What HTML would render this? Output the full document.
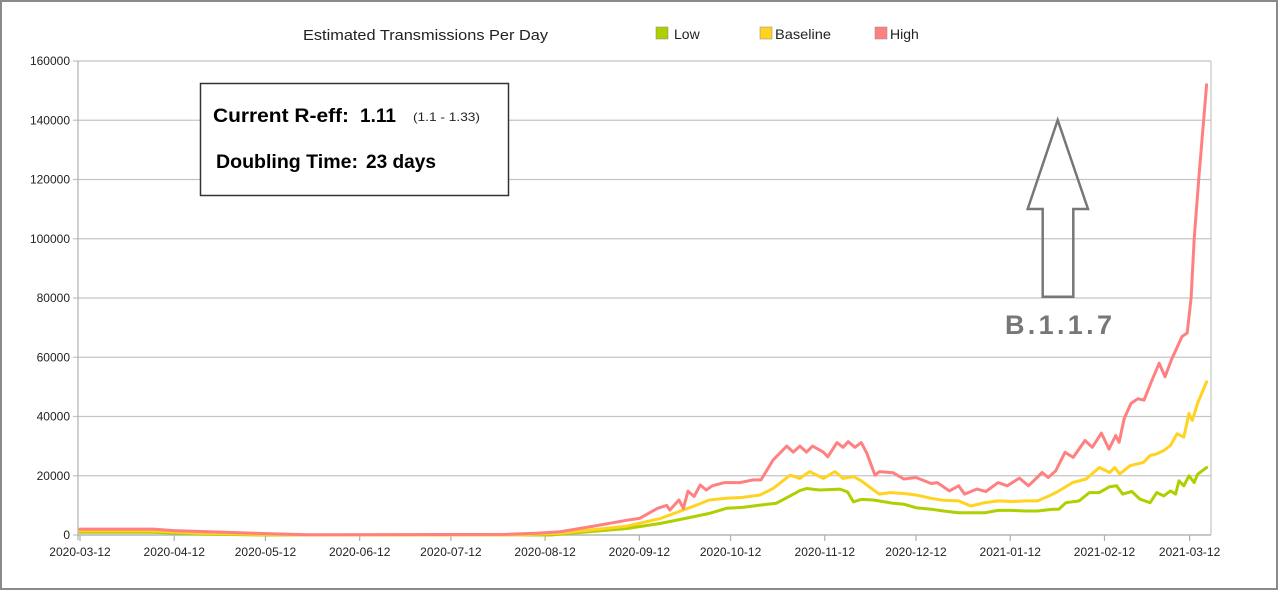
<!DOCTYPE html>
<html><head><meta charset="utf-8"><style>
html,body{margin:0;padding:0;background:#fff}
svg{display:block;font-family:"Liberation Sans",Arial,sans-serif}
</style></head><body>
<svg id="chart" width="1280" height="591" viewBox="0 0 1280 591">
<rect x="1" y="1" width="1276" height="588" fill="#fff" stroke="#8a8a8a" stroke-width="2"/>
<g id="grid"></g>
<g id="axes"></g>
<g id="series"></g>
<text x="303" y="40" font-size="15" textLength="245" lengthAdjust="spacingAndGlyphs" fill="#222">Estimated Transmissions Per Day</text>
<g>
<g><rect x="656" y="27" width="12" height="12" fill="#aecf00" stroke="#888" stroke-width="0.5"/><text x="674" y="39" font-size="14" fill="#222">Low</text></g>
<g><rect x="760" y="27" width="12" height="12" fill="#ffd320" stroke="#888" stroke-width="0.5"/><text x="775" y="39" font-size="14" textLength="56" lengthAdjust="spacingAndGlyphs" fill="#222">Baseline</text></g>
<g><rect x="875" y="27" width="12" height="12" fill="#ff8080" stroke="#888" stroke-width="0.5"/><text x="890" y="39" font-size="14" fill="#222">High</text></g>
</g>
<g>
<rect x="200.5" y="83.5" width="308" height="112" fill="#fff" stroke="#333" stroke-width="1.5"/>
<text x="213" y="122" font-size="19" font-weight="bold" textLength="136" lengthAdjust="spacingAndGlyphs" fill="#000">Current R-eff:</text>
<text x="360" y="122" font-size="19" font-weight="bold" fill="#000">1.11</text>
<text x="413" y="121" font-size="12" textLength="67" lengthAdjust="spacingAndGlyphs" fill="#222">(1.1 - 1.33)</text>
<text x="216" y="168" font-size="19" font-weight="bold" textLength="142" lengthAdjust="spacingAndGlyphs" fill="#000">Doubling Time:</text>
<text x="366" y="168" font-size="19" font-weight="bold" textLength="70" lengthAdjust="spacingAndGlyphs" fill="#000">23 days</text>
</g>
<g>
<polygon points="1057.7,120 1088,209 1073.3,209 1073.3,296.7 1042.7,296.7 1042.7,209 1027.7,209" fill="none" stroke="#777" stroke-width="2.5"/>
<text x="1005" y="334" font-size="27" font-weight="bold" fill="#777" textLength="107" lengthAdjust="spacing">B.1.1.7</text>
</g>
</svg>
<script>
const yTicks = [0,20000,40000,60000,80000,100000,120000,140000,160000];
const xTickLabels = ["2020-03-12","2020-04-12","2020-05-12","2020-06-12","2020-07-12","2020-08-12","2020-09-12","2020-10-12","2020-11-12","2020-12-12","2021-01-12","2021-02-12","2021-03-12"];
const xTickDays = [0,31,61,92,122,153,184,214,245,275,306,337,365];
const highDays = [0,24,31,45,60,75,140,150,158,169,180,184,190,193,194,197,198.5,200,202,204,206,208,212,217,221.5,224,228,232.5,234.6,236.8,239,241,244.5,246,249,251,252.7,254.9,257,258.8,261.5,263,267.5,271,275,280,282,286,289,291,295,298,302,305,309,312,316.5,318.5,321,324,326.7,330.6,333,336,338.5,340.7,341.8,343.5,345.7,348,350,352.4,355,356.9,359,362.5,364.2,365.5,366.5,368,370.6];
const highValues = [2000,2000,1500,1000,500,100,200,600,1100,3000,5000,5600,9000,10000,8400,11800,9000,14800,13000,16900,15200,16600,17700,17700,18600,18600,25300,30000,28000,30000,28000,30000,28000,26400,31200,29600,31500,29600,31200,27600,20200,21400,21000,18900,19400,17400,17700,14900,16600,13800,15500,14700,17700,16600,19200,16600,21100,19400,21700,27900,26200,31900,29600,34400,29000,33600,31300,39300,44400,46000,45500,51700,58000,53400,59100,67000,68200,80000,100000,120000,152000];
const baseDays = [0,24,40,60,75,145,150,158,180,191,202,207,212.7,218,223.7,228,233.6,236.8,240,244.5,248.4,251,254.4,257,261,263,266.4,271,275,280,284,289,293,297.6,302,306.5,311,315,318.8,322,326.5,331,335.3,338.7,340.4,342,345.4,349.8,352,354.2,356.5,358.7,360.9,363.1,364.8,365.9,367.6,370.6];
const baseValues = [1400,1400,600,200,0,0,300,560,3000,5600,9800,11800,12400,12700,13500,15700,20200,19100,21400,19100,21400,19100,19700,18300,15200,13800,14300,14000,13500,12400,11700,11500,9800,10900,11500,11300,11500,11500,13200,14900,17700,18900,22800,21100,22800,20600,23400,24500,26800,27400,28500,30200,34200,33000,41000,38700,44400,51700];
const lowDays = [0,24,40,60,155,158,180,191,202,207,212.7,218,223.7,229,233.6,236.8,239,243.4,250,252.5,254.4,257,261,267.5,271,275,280,284,289,297.6,302,306.5,311,315,320,322,324.3,328.7,332,335.3,338.7,341,343,346,348.7,352,354.2,356.5,358.7,360.4,361.5,363.1,364.8,366.5,367.6,370.6];
const lowValues = [900,900,300,0,0,300,2200,3900,6200,7300,9000,9300,10100,10700,13200,15000,15700,15200,15500,14500,11200,12000,11800,10700,10400,9200,8700,8100,7500,7500,8300,8300,8100,8100,8700,8700,10900,11500,14300,14300,16300,16600,13800,14700,12100,10900,14300,13200,14900,13800,18300,16600,20000,17700,20500,22800];

const NS="http://www.w3.org/2000/svg";
const X0=80, PX_PER_DAY=3.04, Y0=535, YTOP=61, PLOT_L=78, PLOT_R=1211, YMAX=160000;
function xs(d){return X0+d*PX_PER_DAY;}
function ys(v){return Y0-(v/YMAX)*(Y0-YTOP);}
function mk(tag,attrs,parent){const e=document.createElementNS(NS,tag);for(const k in attrs)e.setAttribute(k,attrs[k]);parent.appendChild(e);return e;}
const grid=document.getElementById('grid'), axes=document.getElementById('axes'), series=document.getElementById('series');
yTicks.forEach(v=>{
  const y=ys(v);
  const gl=mk('line',{x1:PLOT_L-5,x2:PLOT_R,y1:y,y2:y,stroke:'#c4c4c4','stroke-width':1.2},grid);
  
  
  const t=mk('text',{x:70,y:y+4,'font-size':12,'text-anchor':'end',fill:'#222'},axes);
  t.textContent=v;
  
  
});
const rb=mk('line',{x1:PLOT_R,x2:PLOT_R,y1:YTOP,y2:Y0,stroke:'#c4c4c4','stroke-width':1.2},grid);


const ya=mk('line',{x1:PLOT_L,x2:PLOT_L,y1:YTOP,y2:Y0+5,stroke:'#b0b0b0','stroke-width':1.2},axes);


const xa=mk('line',{x1:PLOT_L,x2:PLOT_R,y1:Y0,y2:Y0,stroke:'#b0b0b0','stroke-width':1.2},axes);


xTickDays.forEach((d,i)=>{
  const x=xs(d);
  const tk=mk('line',{x1:x,x2:x,y1:Y0,y2:Y0+6,stroke:'#b0b0b0','stroke-width':1.2},axes);
  
  
  const t=mk('text',{x:x,y:556,'font-size':12,'text-anchor':'middle',fill:'#222'},axes);
  t.textContent=xTickLabels[i];
  
  
});
function drawLine(days,vals,color,name){
  const pts=days.map((d,i)=>xs(d).toFixed(1)+','+ys(vals[i]).toFixed(1)).join(' ');
  const p=mk('polyline',{points:pts,fill:'none',stroke:color,'stroke-width':3,'stroke-linejoin':'round','stroke-linecap':'round'},series);
  
  
}
drawLine(lowDays,lowValues,'#aecf00','low-series-line');
drawLine(baseDays,baseValues,'#ffd320','baseline-series-line');
drawLine(highDays,highValues,'#ff8080','high-series-line');
</script>
</body></html>
